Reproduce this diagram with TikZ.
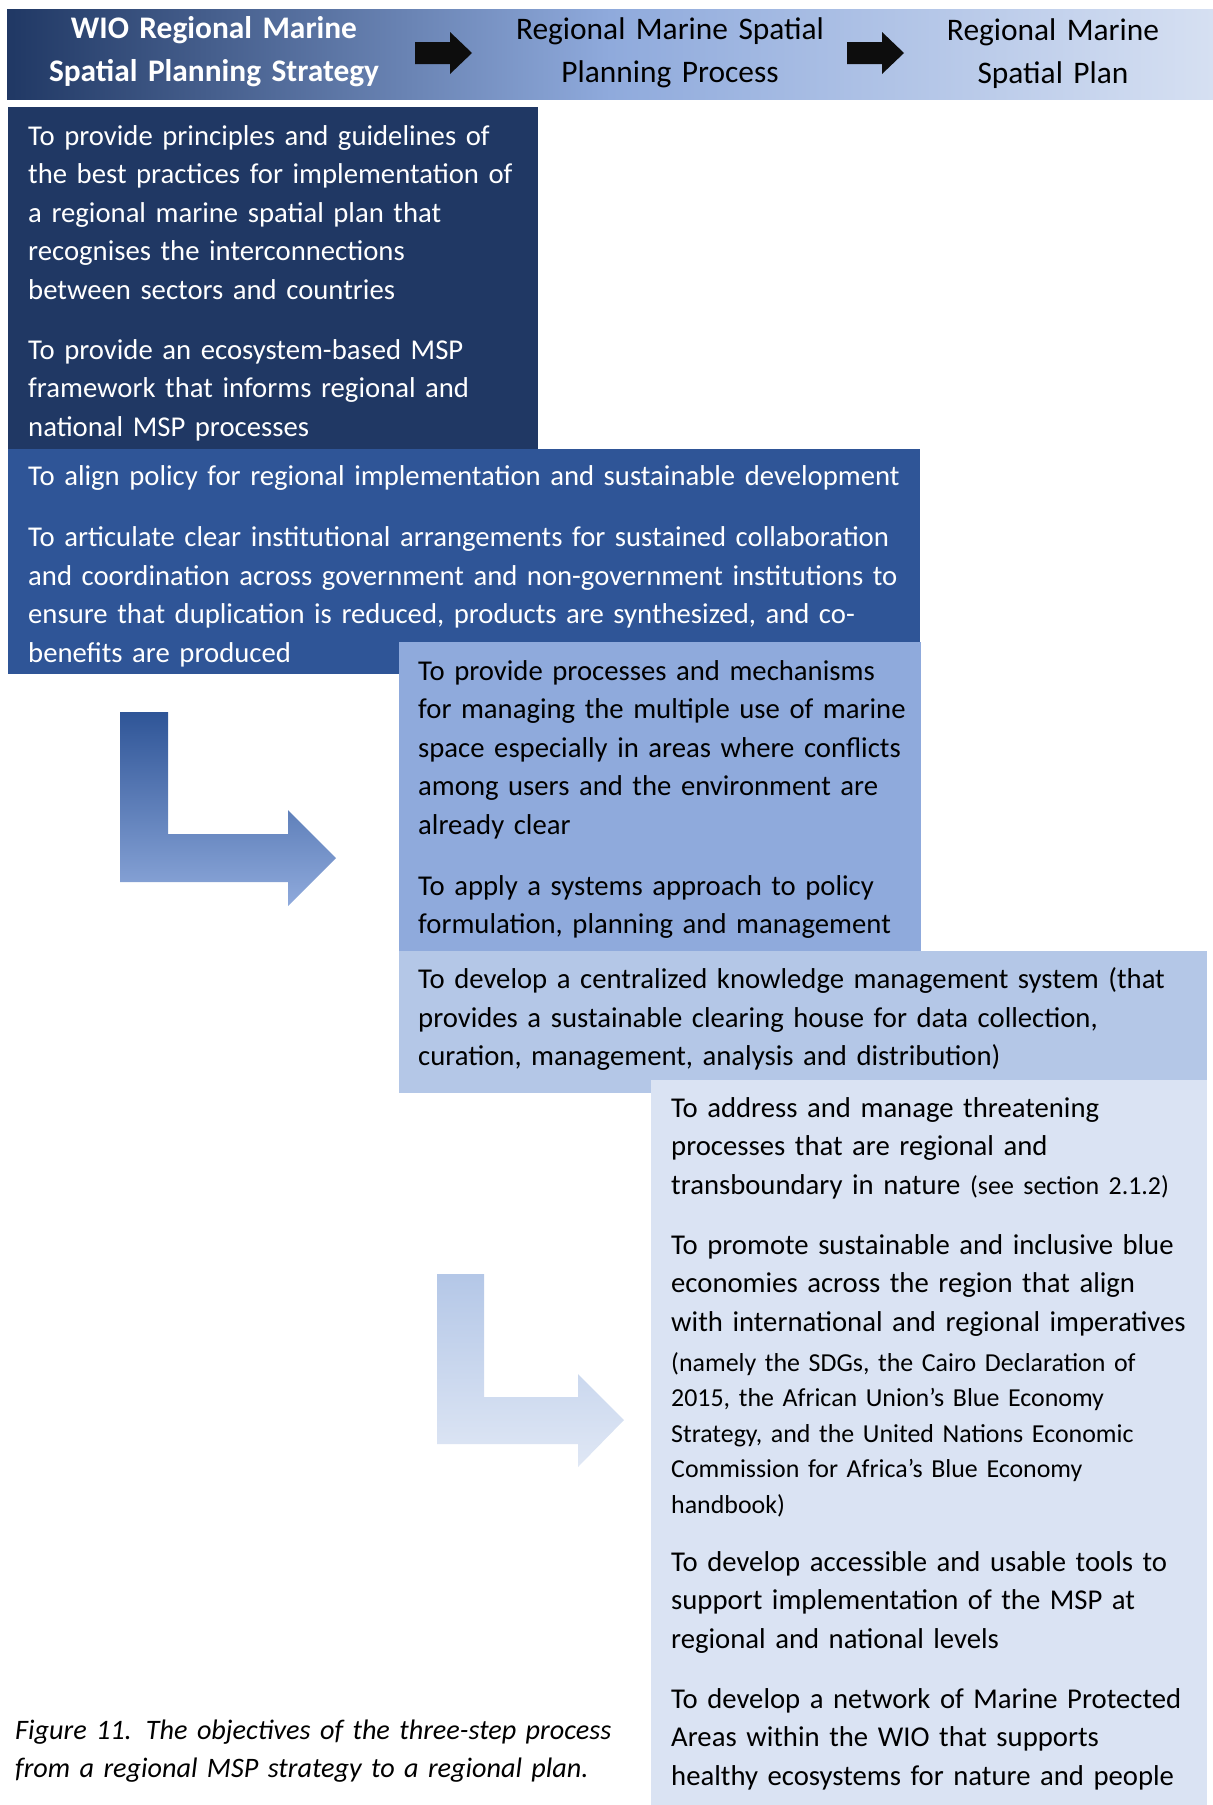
\documentclass[tikz,border=0pt]{standalone}
\usepackage{fontspec}
\setmainfont{Carlito}

% palette
\definecolor{navy}{HTML}{203864}
\definecolor{royal}{HTML}{2F5597}
\definecolor{mid}{HTML}{8FAADC}
\definecolor{pale}{HTML}{B4C7E7}
\definecolor{ice}{HTML}{DAE3F3}
\definecolor{hdrlight}{HTML}{D6E0F2}
\definecolor{ink}{HTML}{0D0D0D}

% header band: dark navy to light blue, left to right
\pgfdeclarehorizontalshading{headerfade}{100bp}{%
  color(0bp)=(navy); color(25bp)=(navy); color(50bp)=(mid);
  color(75bp)=(hdrlight); color(100bp)=(hdrlight)}

\newcommand\bodyfs{\fontsize{28.7}{38.6}\selectfont}
\newcommand\notefs{\fontsize{25.9}{35.5}\selectfont}
\newcommand\headfs{\fontsize{31.4}{42.6}\selectfont}
\newcommand\capfs{\fontsize{28.2}{38}\selectfont}

\tikzset{
  para/.style={anchor=base west, inner sep=0pt, text width=#1, align=left, font=\bodyfs},
  para/.default=900pt,
  note/.style={para, font=\notefs},
  headtext/.style={anchor=base, inner sep=0pt, text width=420pt, align=center, font=\headfs},
  blockarrow/.style={fill=ink, draw=none},
}

\begin{document}
\begin{tikzpicture}[x=1pt,y=-1pt]
\useasboundingbox (0,0) rectangle (1213,1805);

% ---- header band with the three steps
\shade[shading=headerfade] (7,9) rectangle (1213,99);
\node[headtext, text=white, font=\headfs\bfseries] (hstrategy) at (214,38.5)
  {WIO Regional Marine\\Spatial Planning Strategy};
\node[headtext, text=black] (hprocess) at (670,39.5)
  {Regional Marine Spatial\\Planning Process};
\node[headtext, text=black] (hplan) at (1053,40.5)
  {Regional Marine\\Spatial Plan};
\fill[blockarrow] (415,42) -- (450,42) -- (450,32) -- (472,53) -- (450,74) -- (450,64) -- (415,64) -- cycle;
\fill[blockarrow] (847,42) -- (882,42) -- (882,32) -- (904,53) -- (882,74) -- (882,64) -- (847,64) -- cycle;

% ---- objective blocks, each laid over the previous one
\fill[navy]  (8,107)   rectangle (538,449);
\fill[royal] (8,449)   rectangle (920,674);
\fill[mid]   (399,642) rectangle (921,951);
\fill[pale]  (399,951) rectangle (1207,1093);
\fill[ice]   (651,1080) rectangle (1207,1805);

% strategy objectives
\node[para, text=white] (s1) at (28,145)
  {To provide principles and guidelines of\\the best practices for implementation of\\a regional marine spatial plan that\\recognises the interconnections\\between sectors and countries};
\node[para, text=white] (s2) at (28,359)
  {To provide an ecosystem-based MSP\\framework that informs regional and\\national MSP processes};
\node[para, text=white] (s3) at (28,485.5)
  {To align policy for regional implementation and sustainable development};
\node[para, text=white] (s4) at (28,546.5)
  {To articulate clear institutional arrangements for sustained collaboration\\and coordination across government and non-government institutions to\\ensure that duplication is reduced, products are synthesized, and co-\\benefits are produced};

% process objectives
\node[para, text=black] (p1) at (418,680)
  {To provide processes and mechanisms\\for managing the multiple use of marine\\space especially in areas where conflicts\\among users and the environment are\\already clear};
\node[para, text=black] (p2) at (418,895)
  {To apply a systems approach to policy\\formulation, planning and management};
\node[para, text=black] (p3) at (418,988.5)
  {To develop a centralized knowledge management system (that\\provides a sustainable clearing house for data collection,\\curation, management, analysis and distribution)};

% plan objectives
\node[para, text=black] (q1) at (671,1117)
  {To address and manage threatening\\processes that are regional and\\transboundary in nature {\notefs(see section 2.1.2)}};
\node[para, text=black] (q2) at (671,1254)
  {To promote sustainable and inclusive blue\\economies across the region that align\\with international and regional imperatives};
\node[note, text=black] (q2n) at (671,1371)
  {(namely the SDGs, the Cairo Declaration of\\2015, the African Union’s Blue Economy\\Strategy, and the United Nations Economic\\Commission for Africa’s Blue Economy\\handbook)};
\node[para, text=black] (q3) at (671,1571)
  {To develop accessible and usable tools to\\support implementation of the MSP at\\regional and national levels};
\node[para, text=black] (q4) at (671,1708)
  {To develop a network of Marine Protected\\Areas within the WIO that supports\\healthy ecosystems for nature and people};

% ---- bent arrows leading from one step to the next
\shade[top color=royal, bottom color=mid]
  (120,712) -- (168,712) -- (168,834) -- (288,834) -- (288,810) -- (336,858)
  -- (288,906) -- (288,882) -- (120,882) -- cycle;
\shade[top color=pale, bottom color=ice!85!white]
  (437,1274) -- (484,1274) -- (484,1397) -- (578,1397) -- (578,1374) -- (624,1420)
  -- (578,1467) -- (578,1444) -- (437,1444) -- cycle;

% ---- caption
\node[para, text=black, font=\capfs\itshape] (caption) at (15,1739)
  {Figure 11. The objectives of the three-step process\\from a regional MSP strategy to a regional plan.};
\end{tikzpicture}
\end{document}
